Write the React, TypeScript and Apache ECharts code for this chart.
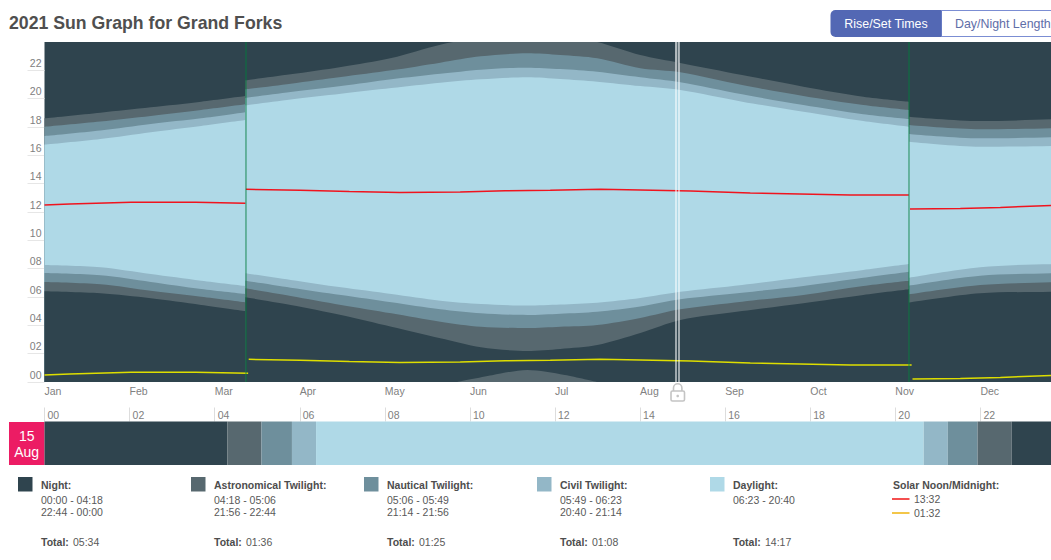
import React, { useEffect, useRef } from "react";
import * as echarts from "echarts";

const FONT = '"Liberation Sans", Arial, sans-serif';

const monthLabels = ["Jan", "Feb", "Mar", "Apr", "May", "Jun", "Jul", "Aug", "Sep", "Oct", "Nov", "Dec"];
const hourTicks = [0, 2, 4, 6, 8, 10, 12, 14, 16, 18, 20, 22];
const DAYS_IN_AXIS = 365;

// Sample days; 71.8 and 309 appear twice: before and after the clock change.
const days = [0, 20, 38, 56, 71.8, 71.8, 88, 106, 124, 141.5, 156, 172.6, 184.4, 197.6, 213, 227.3, 249.4, 271.3, 292.7, 309, 309, 334.5, 360, 365];

// Evening boundaries, hours
const astroDusk = [18.61, 19.01, 19.39, 19.79, 20.19, 21.3, 21.72, 22.24, 22.87, 23.81, 24.35, 24.85, 24.5, 24.0, 23.08, 22.52, 21.67, 20.85, 20.14, 19.79, 18.73, 18.42, 18.54, 18.61];
const nauticalDusk = [18.02, 18.39, 18.78, 19.2, 19.6, 20.66, 21.06, 21.53, 22.0, 22.54, 22.99, 23.2, 23.08, 22.85, 22.14, 21.86, 20.96, 20.19, 19.55, 19.2, 18.14, 17.84, 17.91, 18.02];
const civilDusk = [17.36, 17.75, 18.21, 18.61, 19.04, 20.05, 20.47, 20.89, 21.37, 21.76, 22.05, 22.19, 22.09, 21.9, 21.51, 21.16, 20.31, 19.55, 18.9, 18.56, 17.51, 17.2, 17.27, 17.36];
const sunset = [16.75, 17.15, 17.63, 18.07, 18.49, 19.53, 19.95, 20.35, 20.75, 21.13, 21.37, 21.51, 21.39, 21.2, 20.89, 20.61, 19.79, 19.08, 18.42, 18.02, 16.96, 16.61, 16.66, 16.75];

// Morning boundaries, hours
const sunrise = [8.26, 8.1, 7.62, 7.15, 6.78, 7.67, 7.2, 6.68, 6.21, 5.74, 5.51, 5.4, 5.47, 5.6, 5.93, 6.37, 6.85, 7.39, 7.91, 8.33, 7.36, 8.1, 8.31, 8.26];
const civilDawn = [7.69, 7.53, 7.06, 6.56, 6.21, 7.15, 6.66, 6.14, 5.63, 5.13, 4.85, 4.73, 4.82, 4.96, 5.33, 5.84, 6.3, 6.78, 7.36, 7.79, 6.8, 7.5, 7.67, 7.69];
const nauticalDawn = [7.06, 6.9, 6.44, 6.02, 5.63, 6.61, 6.07, 5.44, 4.85, 4.26, 3.9, 3.81, 3.9, 4.02, 4.52, 5.13, 5.67, 6.14, 6.78, 7.15, 6.19, 6.85, 7.04, 7.06];
const astroDawn = [6.4, 6.26, 5.91, 5.44, 5.01, 5.98, 5.44, 4.73, 3.9, 3.08, 2.45, 2.19, 2.33, 2.61, 3.46, 4.38, 5.01, 5.56, 6.14, 6.54, 5.6, 6.26, 6.37, 6.4];

// Astronomical dusk after midnight (the low hump in summer)
const wrapDays = [147.5, 160, 172.6, 186, 197.6];
const wrapHours = [0, 0.48, 0.85, 0.5, 0];

// Solar noon and midnight; null marks the break at each clock change
const noonDays = [0, 9, 31, 54, 71.8, 71.8, 72, 91.4, 109, 127, 148.6, 164.7, 180.8, 198.7, 213, 231, 252.3, 270, 288, 309, 309, 309.4, 327.4, 341.7, 360, 365];
const solarNoon = [12.49, 12.56, 12.68, 12.68, 12.61, null, 13.6, 13.53, 13.45, 13.38, 13.41, 13.5, 13.53, 13.6, 13.55, 13.48, 13.34, 13.27, 13.2, 13.2, null, 12.21, 12.25, 12.32, 12.46, 12.49];
const midnightDays = [0, 9, 31, 54, 72.8, 72.8, 73, 91.4, 109, 127, 148.6, 164.7, 180.8, 198.7, 213, 231, 252.3, 270, 288, 310, 310, 310.3, 327.4, 341.7, 360, 365];
const solarMidnight = [0.49, 0.56, 0.68, 0.68, 0.61, null, 1.6, 1.53, 1.45, 1.38, 1.41, 1.5, 1.53, 1.6, 1.55, 1.48, 1.34, 1.27, 1.2, 1.2, null, 0.21, 0.25, 0.32, 0.46, 0.49];

const clockChangeDays = [71.8, 309];
const selectedDayEdges = [225.5, 226.8];

// Strip for the selected day
const stripNames = ["Night", "Astronomical Twilight", "Nautical Twilight", "Civil Twilight", "Daylight", "Civil Twilight", "Nautical Twilight", "Astronomical Twilight", "Night"];
const stripEnds = ["04:18", "05:06", "05:49", "06:23", "20:40", "21:14", "21:56", "22:44", "24:00"];

const COL = {
  night: "#2f444e",
  astro: "#57686f",
  nautical: "#6e8f9c",
  civil: "#93b7c7",
  day: "#afd9e7",
};
const stripColors = [COL.night, COL.astro, COL.nautical, COL.civil, COL.day, COL.civil, COL.nautical, COL.astro, COL.night];

const legendTitles = ["Night:", "Astronomical Twilight:", "Nautical Twilight:", "Civil Twilight:", "Daylight:"];
const legendColors = [COL.night, COL.astro, COL.nautical, COL.civil, COL.day];
const legendFirst = ["00:00 - 04:18", "04:18 - 05:06", "05:06 - 05:49", "05:49 - 06:23", "06:23 - 20:40"];
const legendSecond = ["22:44 - 00:00", "21:56 - 22:44", "21:14 - 21:56", "20:40 - 21:14", ""];
const legendTotals = ["05:34", "01:36", "01:25", "01:08", "14:17"];

const toHours = (s: string) => {
  const [h, m] = s.split(":").map(Number);
  return h + m / 60;
};
const pad2 = (v: number) => String(v).padStart(2, "0");

// Split a band at the clock changes (a repeated day), so that each piece is smoothed by itself.
const splitAtJumps = (xs: number[], ys: number[]) => {
  const pieces: number[][][] = [[]];
  xs.forEach((x, i) => {
    if (i > 0 && xs[i - 1] === x) pieces.push([]);
    pieces[pieces.length - 1].push([x, ys[i]]);
  });
  return pieces;
};

export default function App() {
  const ref = useRef<HTMLDivElement>(null);
  useEffect(() => {
    const chart = echarts.init(ref.current!, undefined, { renderer: "svg" });

    const band = (name: string, values: number[], color: string, xs = days) =>
      splitAtJumps(xs, values).map((piece) => ({
        name,
        type: "line",
        xAxisIndex: 0,
        yAxisIndex: 0,
        showSymbol: false,
        silent: true,
        smooth: 0.3,
        lineStyle: { width: 0 },
        areaStyle: { color, opacity: 1, origin: "start" },
        data: piece,
      }));

    const solarLine = (name: string, xs: number[], values: (number | null)[], color: string) => ({
      name,
      type: "line",
      xAxisIndex: 0,
      yAxisIndex: 0,
      showSymbol: false,
      silent: true,
      connectNulls: false,
      lineStyle: { width: 1.5, color },
      data: values.map((v, i) => [xs[i], v]),
    });

    let prev = 0;
    const stripSeries = stripEnds.map((end, i) => {
      const e = toHours(end);
      const d = e - prev;
      prev = e;
      return {
        name: stripNames[i],
        type: "bar",
        stack: "day",
        xAxisIndex: 1,
        yAxisIndex: 1,
        barWidth: "100%",
        silent: true,
        itemStyle: { color: stripColors[i] },
        data: [d],
      };
    });

    const text = (x: number, y: number, t: string, o: any = {}) => ({
      type: "text",
      x,
      y,
      silent: true,
      style: {
        text: t,
        fill: "#595959",
        font: `10.5px ${FONT}`,
        verticalAlign: "middle",
        align: "left",
        ...o,
      },
    });
    const BOLD = { font: `bold 10.5px ${FONT}`, fill: "#4d4d4d" };

    const graphics: any[] = [];
    legendTitles.forEach((title, i) => {
      const sx = 18 + i * 173;
      const tx = sx + 23;
      graphics.push({
        type: "rect",
        silent: true,
        shape: { x: sx, y: 477, width: 14.5, height: 14.5 },
        style: { fill: legendColors[i] },
      });
      graphics.push(text(tx, 484.5, title, BOLD));
      graphics.push(text(tx, 499.5, legendFirst[i]));
      if (legendSecond[i]) graphics.push(text(tx, 512, legendSecond[i]));
      graphics.push(text(tx, 542, "Total:", BOLD));
      graphics.push(text(tx + 32, 542, legendTotals[i]));
    });
    graphics.push(text(893, 484.5, "Solar Noon/Midnight:", BOLD));
    graphics.push({ type: "line", silent: true, shape: { x1: 892, y1: 499, x2: 909.5, y2: 499 }, style: { stroke: "#f01414", lineWidth: 1.5 } });
    graphics.push({ type: "line", silent: true, shape: { x1: 892, y1: 513, x2: 909.5, y2: 513 }, style: { stroke: "#efb30c", lineWidth: 1.5 } });
    graphics.push(text(914, 498.5, "13:32"));
    graphics.push(text(914, 512.5, "01:32"));

    // Date tile
    graphics.push({ type: "rect", silent: true, shape: { x: 9, y: 422, width: 35.5, height: 43 }, style: { fill: "#ec1c64" } });
    graphics.push(text(26.7, 435.5, "15", { fill: "#ffffff", align: "center", font: `14px ${FONT}` }));
    graphics.push(text(26.7, 451.5, "Aug", { fill: "#ffffff", align: "center", font: `14px ${FONT}` }));

    // Toggle
    graphics.push({ type: "rect", silent: true, shape: { x: 941.5, y: 10.5, width: 140, height: 26, r: 0 }, style: { fill: "#ffffff", stroke: "#7b8dd3", lineWidth: 1 } });
    graphics.push({ type: "rect", silent: true, shape: { x: 830.5, y: 10, width: 111, height: 27, r: [5, 0, 0, 5] }, style: { fill: "#5368b4" } });
    graphics.push(text(886, 23.5, "Rise/Set Times", { fill: "#ffffff", align: "center", font: `12.4px ${FONT}` }));
    graphics.push(text(955, 23.5, "Day/Night Length", { fill: "#5f6ea8", font: `12.4px ${FONT}` }));

    // Lock under the selected day
    const lockStroke = { stroke: "#c4c4c4", lineWidth: 1.6, fill: "none" };
    graphics.push({ type: "rect", silent: true, shape: { x: 671, y: 391, width: 13.5, height: 10, r: 1.5 }, style: lockStroke });
    graphics.push({ type: "arc", silent: true, shape: { cx: 677.7, cy: 388, r: 4.2, startAngle: Math.PI, endAngle: 2 * Math.PI, clockwise: true }, style: lockStroke });
    graphics.push({ type: "line", silent: true, shape: { x1: 673.5, y1: 388, x2: 673.5, y2: 391 }, style: lockStroke });
    graphics.push({ type: "line", silent: true, shape: { x1: 681.9, y1: 388, x2: 681.9, y2: 391 }, style: lockStroke });
    graphics.push({ type: "circle", silent: true, shape: { cx: 677.7, cy: 396, r: 1.3 }, style: { fill: "#c4c4c4" } });

    chart.setOption({
      animation: false,
      backgroundColor: "#ffffff",
      title: {
        text: "2021 Sun Graph for Grand Forks",
        left: 9,
        top: 14,
        padding: 0,
        textStyle: { color: "#4f4f4f", fontFamily: FONT, fontWeight: "bold", fontSize: 17.7 },
      },
      grid: [
        { left: 44.5, top: 42, width: 1021, height: 340, backgroundColor: COL.night, show: true, borderWidth: 0 },
        { left: 44.5, top: 421.5, width: 1021, height: 43.5 },
      ],
      xAxis: [
        {
          type: "value",
          gridIndex: 0,
          min: 0,
          max: DAYS_IN_AXIS,
          splitLine: { show: false },
          axisLine: { show: false },
          axisTick: { show: false },
          axisLabel: {
            customValues: monthLabels.map((_, i) => (i * DAYS_IN_AXIS) / 12),
            formatter: (v: number) => monthLabels[Math.round((v * 12) / DAYS_IN_AXIS)],
            align: "left",
            verticalAlign: "top",
            margin: 3,
            color: "#808080",
            fontSize: 10.5,
            fontFamily: FONT,
          },
        },
        {
          type: "value",
          gridIndex: 1,
          position: "top",
          min: 0,
          max: 24,
          splitLine: { show: false },
          axisLine: { show: false },
          axisTick: { show: true, length: 14, customValues: hourTicks, lineStyle: { color: "#dddddd", width: 1 } },
          axisLabel: {
            customValues: hourTicks,
            formatter: (v: number) => pad2(v),
            align: "left",
            verticalAlign: "middle",
            margin: 7,
            padding: [0, 0, 0, 3],
            color: "#808080",
            fontSize: 10.5,
            fontFamily: FONT,
          },
        },
      ],
      yAxis: [
        {
          type: "value",
          gridIndex: 0,
          min: 0,
          max: 24,
          splitLine: { show: false },
          axisLine: { show: false },
          axisTick: { show: true, length: 17, customValues: hourTicks, lineStyle: { color: "#e6e6e6", width: 1 } },
          axisLabel: {
            customValues: hourTicks,
            formatter: (v: number) => pad2(v),
            align: "right",
            verticalAlign: "bottom",
            margin: 3,
            padding: [0, 0, 2, 0],
            color: "#808080",
            fontSize: 10.5,
            fontFamily: FONT,
          },
        },
        {
          type: "category",
          gridIndex: 1,
          data: ["day"],
          axisLine: { show: false },
          axisTick: { show: false },
          axisLabel: { show: false },
        },
      ],
      graphic: { elements: graphics },
      series: [
        ...band("Astronomical dusk", astroDusk, COL.astro),
        ...band("Nautical dusk", nauticalDusk, COL.nautical),
        ...band("Civil dusk", civilDusk, COL.civil),
        ...band("Sunset", sunset, COL.day),
        ...band("Sunrise", sunrise, COL.civil),
        ...band("Civil dawn", civilDawn, COL.nautical),
        ...band("Nautical dawn", nauticalDawn, COL.astro),
        ...band("Astronomical dawn", astroDawn, COL.night),
        ...band("Astronomical dusk after midnight", wrapHours, COL.astro, wrapDays),
        solarLine("Solar noon", noonDays, solarNoon, "#f0141e"),
        solarLine("Solar midnight", midnightDays, solarMidnight, "#dede00"),
        {
          name: "Markers",
          type: "line",
          xAxisIndex: 0,
          yAxisIndex: 0,
          showSymbol: false,
          silent: true,
          data: [],
          markLine: {
            silent: true,
            symbol: "none",
            label: { show: false },
            data: [
              ...clockChangeDays.map((d) => ({ xAxis: d, lineStyle: { color: "rgba(0,128,60,0.55)", width: 1.5, type: "solid" } })),
              ...selectedDayEdges.map((d) => ({ xAxis: d, lineStyle: { color: "rgba(255,255,255,0.6)", width: 1.8, type: "solid" } })),
            ],
          },
          markArea: {
            silent: true,
            itemStyle: { color: "rgba(255,255,255,0.22)" },
            data: [[{ xAxis: selectedDayEdges[0] }, { xAxis: selectedDayEdges[1] }]],
          },
        },
        ...stripSeries,
      ],
    });
    return () => chart.dispose();
  }, []);

  return (
    <div style={{ position: "absolute", left: 0, top: 0, width: 1051, height: 560, overflow: "hidden" }}>
      <div ref={ref} style={{ width: 1080, height: 560 }} />
    </div>
  );
}
